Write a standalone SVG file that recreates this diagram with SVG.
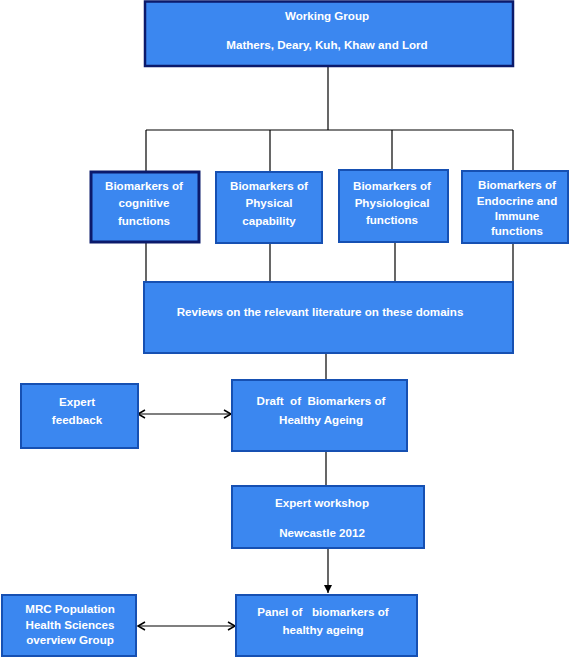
<svg xmlns="http://www.w3.org/2000/svg" width="570" height="658" viewBox="0 0 570 658">
<style>
.box{fill:#3b87f0;stroke:#1650b2;stroke-width:2}
.dark{stroke:#0b1a6b;stroke-width:3}
text{font-family:"Liberation Sans",Arial,sans-serif;font-weight:bold;font-size:11.6px;fill:#ffffff;text-anchor:middle;white-space:pre}
.ln{stroke:#000;stroke-width:1.2;fill:none}
</style>
<defs>
<marker id="open" markerWidth="10" markerHeight="10" refX="8" refY="5" orient="auto-start-reverse" markerUnits="userSpaceOnUse">
<path d="M1,1 L8,5 L1,9" fill="none" stroke="#000" stroke-width="1.5"/>
</marker>
<marker id="fill" markerWidth="10" markerHeight="10" refX="9" refY="5" orient="auto" markerUnits="userSpaceOnUse">
<path d="M1,1 L9,5 L1,9 Z" fill="#000"/>
</marker>
</defs>
<rect width="570" height="658" fill="#fff"/>
<g id="connectors">
<line class="ln" x1="328" y1="66" x2="328" y2="130"/>
<line class="ln" x1="146" y1="130" x2="513" y2="130"/>
<line class="ln" x1="146" y1="130" x2="146" y2="171"/>
<line class="ln" x1="270" y1="130" x2="270" y2="171"/>
<line class="ln" x1="392" y1="130" x2="392" y2="169"/>
<line class="ln" x1="513" y1="130" x2="513" y2="170"/>
<line class="ln" x1="146" y1="242" x2="146" y2="281"/>
<line class="ln" x1="270" y1="243" x2="270" y2="281"/>
<line class="ln" x1="395" y1="242" x2="395" y2="281"/>
<line class="ln" x1="513" y1="243" x2="513" y2="281"/>
<line class="ln" x1="326" y1="353" x2="326" y2="379"/>
<line class="ln" x1="326" y1="451" x2="326" y2="485"/>
<line class="ln" x1="328" y1="548" x2="328" y2="593" marker-end="url(#fill)"/>
<line class="ln" x1="138" y1="414" x2="231" y2="414" marker-start="url(#open)" marker-end="url(#open)"/>
<line class="ln" x1="138" y1="626" x2="235" y2="626" marker-start="url(#open)" marker-end="url(#open)"/>
</g>
<g id="working-group">
<rect class="box dark" x="145" y="1.5" width="368" height="64.5" style="stroke-width:2.5"/>
<text x="327" y="20">Working Group</text>
<text x="327" y="49">Mathers, Deary, Kuh, Khaw and Lord</text>
</g>
<g id="cognitive">
<rect class="box dark" x="91" y="172" width="108" height="70"/>
<text x="144" y="190">Biomarkers of</text>
<text x="144" y="207">cognitive</text>
<text x="144" y="225">functions</text>
</g>
<g id="physical">
<rect class="box" x="216" y="172" width="106" height="71"/>
<text x="269" y="190">Biomarkers of</text>
<text x="269" y="207">Physical</text>
<text x="269" y="225">capability</text>
</g>
<g id="physiological">
<rect class="box" x="339" y="170" width="109" height="72"/>
<text x="392" y="190">Biomarkers of</text>
<text x="392" y="207">Physiological</text>
<text x="392" y="224">functions</text>
</g>
<g id="endocrine">
<rect class="box" x="462" y="171" width="106" height="72"/>
<text x="517" y="189">Biomarkers of</text>
<text x="517" y="205">Endocrine and</text>
<text x="517" y="220">Immune</text>
<text x="517" y="235">functions</text>
</g>
<g id="reviews">
<rect class="box" x="144" y="282" width="369" height="71"/>
<text x="320" y="316">Reviews on the relevant literature on these domains</text>
</g>
<g id="expert-feedback">
<rect class="box" x="21" y="384" width="117" height="64"/>
<text x="77" y="406">Expert</text>
<text x="77" y="424">feedback</text>
</g>
<g id="draft">
<rect class="box" x="232" y="380" width="175" height="71"/>
<text x="321" y="405">Draft  of  Biomarkers of</text>
<text x="321" y="424">Healthy Ageing</text>
</g>
<g id="workshop">
<rect class="box" x="232" y="486" width="192" height="62"/>
<text x="322" y="507">Expert workshop</text>
<text x="322" y="537">Newcastle 2012</text>
</g>
<g id="mrc">
<rect class="box" x="2" y="595" width="134" height="61"/>
<text x="70" y="613">MRC Population</text>
<text x="70" y="629">Health Sciences</text>
<text x="70" y="644">overview Group</text>
</g>
<g id="panel">
<rect class="box" x="236" y="595" width="181" height="61"/>
<text x="323" y="616">Panel of   biomarkers of</text>
<text x="323" y="634">healthy ageing</text>
</g>
</svg>
